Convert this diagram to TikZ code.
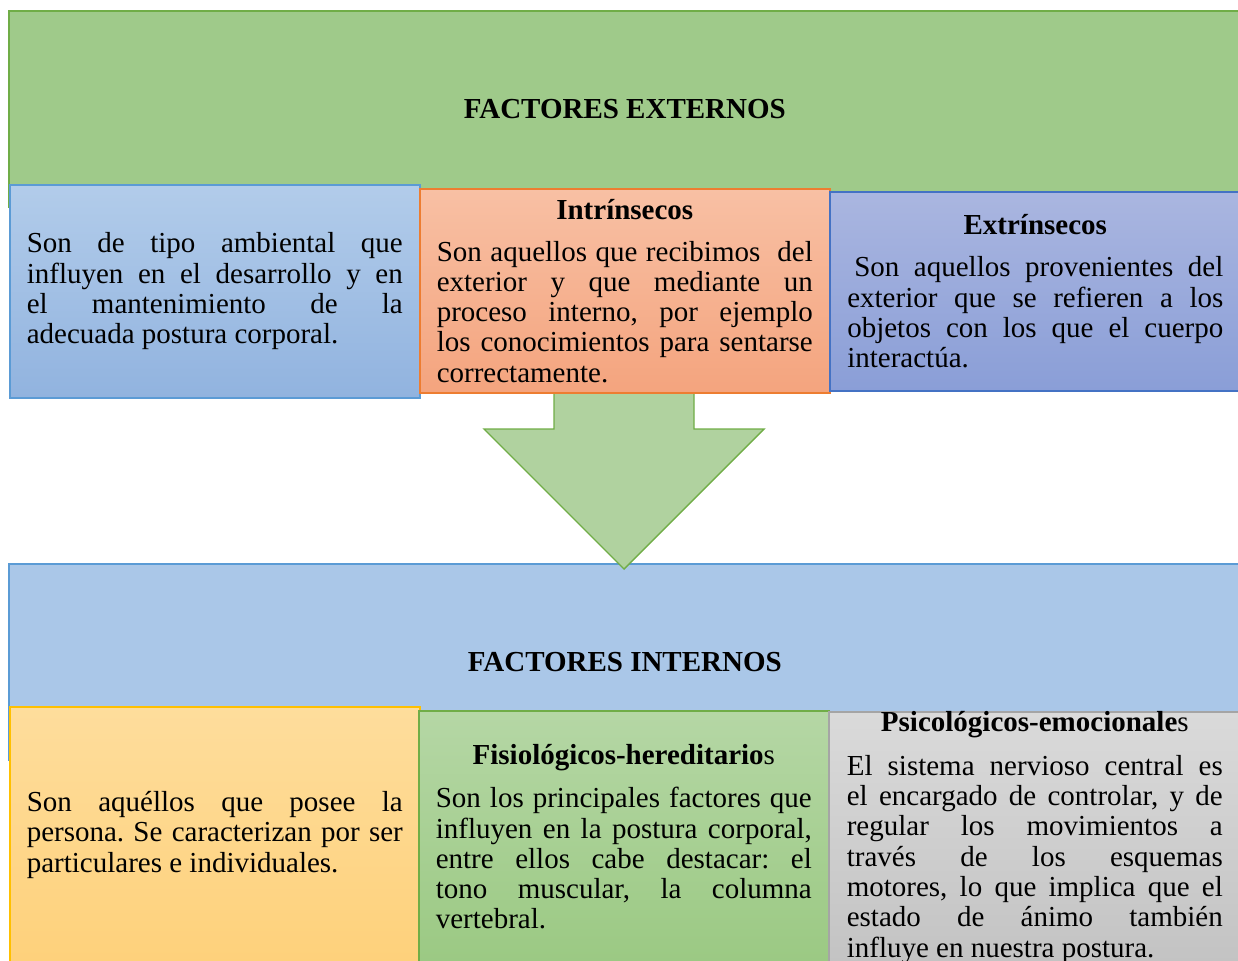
\documentclass[tikz,border=0pt]{standalone}
\usepackage{fontspec}
\setmainfont{Liberation Serif}
\usepackage{xcolor}
\usepackage{tikz}
\usetikzlibrary{positioning,calc}

\definecolor{bannergreen}{HTML}{9FCA8A}
\definecolor{bannerblue}{HTML}{AAC7E8}
\definecolor{edgegreen}{HTML}{70AD47}
\definecolor{edgeblue}{HTML}{5B9BD5}
\definecolor{edgeorange}{HTML}{ED7D31}
\definecolor{edgeindigo}{HTML}{4472C4}
\definecolor{edgegold}{HTML}{FFC000}
\definecolor{edgegray}{HTML}{A5A5A5}
\newcommand{\boxfont}{\fontsize{14.5}{15.15}\selectfont\frenchspacing}

\begin{document}
\begin{tikzpicture}[
    x=0.5pt, y=-0.5pt,
    banner/.style={rectangle, draw, line width=0.8pt, anchor=north west,
      minimum width=616pt, minimum height=98pt,
      font=\boxfont\bfseries},
    panel/.style={rectangle, draw, line width=0.8pt, anchor=north west,
      text width=188pt, inner xsep=8.5pt, inner ysep=0pt,
      align=justify, font=\boxfont},
    bigarrow/.style={fill={rgb,255:red,176;green,210;blue,159}, draw=edgegreen, line width=0.7pt}
  ]
    \useasboundingbox (0,0) rectangle (1238,960);

    % Banners
    \node[banner, fill=bannergreen, draw=edgegreen] (ext) at (8,10) {FACTORES EXTERNOS};
    \node[banner, fill=bannerblue, draw=edgeblue] (int) at (8,563) {FACTORES INTERNOS};

    % Arrow between the two groups
    \coordinate (top) at ([xshift=-35pt]$(624,392)$);
    \filldraw[bigarrow] (top) -- ++(0,37) -- ++(-70,0) -- ++(140,140)
      -- ++(140,-140) -- ++(-70,0) -- ++(0,-37) -- cycle;

    % External factors
    \node[panel, minimum width=205pt, minimum height=106.5pt,
      top color={rgb,255:red,178;green,204;blue,234}, bottom color={rgb,255:red,145;green,179;blue,223},
      draw=edgeblue] (amb) at (9,184)
      {Son de tipo ambiental que\linebreak
       influyen en el desarrollo y en\linebreak
       el mantenimiento de la\linebreak
       adecuada postura corporal.};
    \node[panel, minimum width=205pt, minimum height=102pt,
      top color={rgb,255:red,248;green,192;blue,164}, bottom color={rgb,255:red,244;green,164;blue,126},
      draw=edgeorange] (intr) at (419,188)
      {{\centering\textbf{Intrínsecos}\par}\vspace{5.85pt}
       Son aquellos que recibimos\ \ del\linebreak
       exterior y que mediante un\linebreak
       proceso interno, por ejemplo\linebreak
       los conocimientos para sentarse\linebreak
       correctamente.};
    \node[panel, minimum width=205.5pt, minimum height=99.5pt,
      top color={rgb,255:red,170;green,182;blue,224}, bottom color={rgb,255:red,138;green,158;blue,215},
      draw=edgeindigo] (extr) at (829,191)
      {{\centering\textbf{Extrínsecos}\par}\vspace{5.85pt}
       \hspace*{3.5pt}Son aquellos provenientes del\linebreak
       exterior que se refieren a los\linebreak
       objetos con los que el cuerpo\linebreak
       interactúa.};

    % Internal factors
    \node[panel, minimum width=204.5pt, minimum height=128pt,
      top color={rgb,255:red,254;green,221;blue,156}, bottom color={rgb,255:red,254;green,209;blue,123},
      draw=edgegold] (pers) at (9,706)
      {Son aquéllos que posee la\linebreak
       persona. Se caracterizan por ser\linebreak
       particulares e individuales.};
    \node[panel, minimum width=205pt, minimum height=126pt,
      top color={rgb,255:red,181;green,215;blue,165}, bottom color={rgb,255:red,155;green,201;blue,131},
      draw=edgegreen] (fisio) at (418,710)
      {{\centering\textbf{Fisiológicos-hereditario}s\par}\vspace{6.5pt}
       Son los principales factores que\linebreak
       influyen en la postura corporal,\linebreak
       entre ellos cabe destacar: el\linebreak
       tono muscular, la columna\linebreak
       vertebral.};
    \node[panel, minimum width=206pt, minimum height=125.5pt,
      top color={rgb,255:red,218;green,218;blue,218}, bottom color={rgb,255:red,195;green,195;blue,195},
      draw=edgegray] (psico) at (828,711)
      {{\centering\textbf{Psicológicos-emocionale}s\par}\vspace{6.5pt}
       El sistema nervioso central es\linebreak
       el encargado de controlar, y de\linebreak
       regular los movimientos a\linebreak
       través de los esquemas\linebreak
       motores, lo que implica que el\linebreak
       estado de ánimo también\linebreak
       influye en nuestra postura.};
\end{tikzpicture}
\end{document}
